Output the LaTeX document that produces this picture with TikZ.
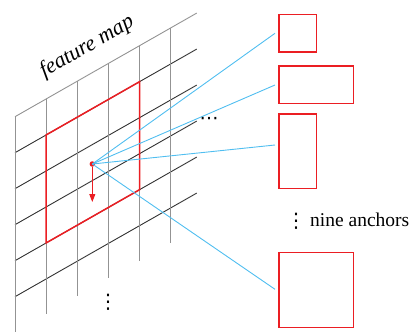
\documentclass[tikz,border=0pt]{standalone}
\usepackage{fontspec}
\setmainfont{Liberation Serif}
\newfontfamily\dotsfont{DejaVu Sans}
\usetikzlibrary{arrows.meta}
\definecolor{anchred}{RGB}{235,30,35}
\definecolor{linkblue}{RGB}{80,190,240}
\begin{document}
\begin{tikzpicture}[x=1pt,y=-1pt,
  gridv/.style={draw=gray!85, line width=0.9pt},
  gridd/.style={draw=black!80, line width=0.9pt},
  anchorbox/.style={draw=anchred, line width=1.4pt, inner sep=0pt, minimum width=#1},
  link/.style={draw=linkblue, line width=0.9pt},
  dotstext/.style={font=\dotsfont\fontsize{#1}{#1}\selectfont, inner sep=0pt}]
\useasboundingbox (0,0) rectangle (409,332);
% diagonal lines
\draw[gridv] (15,116.7) -- (196.7,13.1);
\foreach \k in {1,...,5}{
  \draw[gridd] (15,{116.7+36*\k}) -- (196.7,{13.1+36*\k});
}
% vertical lines
\foreach \i in {0,...,5}{
  \draw[gridv] ({15+31.14*\i},{116.7-0.5702*31.14*\i}) -- ({15+31.14*\i},{331.5-0.57*31.14*\i});
}
% red window
\draw[anchred, line width=1.5pt] (46.14,134.94) -- (139.56,81.68) -- (139.56,189.68) -- (46.14,242.94) -- cycle;
% center point
\node[circle, fill=anchred, inner sep=0pt, minimum size=5.5pt] (c) at (92.3,164) {};
\coordinate (ce) at (92.3,202);
\draw[anchred, line width=1pt, -{Triangle[length=8pt,width=6pt]}] (c) -- (ce);
% anchor boxes
\node[anchorbox=37.7pt, minimum height=37.7pt] (b1) at (297.8,33.2) {};
\node[anchorbox=74.7pt, minimum height=37.7pt] (b2) at (316.3,84.8) {};
\node[anchorbox=37.7pt, minimum height=74.7pt] (b3) at (297.8,151.3) {};
\node[anchorbox=74.7pt, minimum height=74.7pt] (b4) at (316.3,290) {};
\coordinate (e1) at (275,33.3);
\coordinate (e2) at (275,85);
\coordinate (e3) at (275,145);
\coordinate (e4) at (275,289.3);
\foreach \e in {e1,e2,e3,e4}{ \draw[link] (c.center) -- (\e); }
% texts
\node[rotate=30, font=\fontsize{22}{26}\selectfont\itshape] (fm) at (87,47) {feature map};
\node[dotstext=19] (hd) at (209,121) {⋯};
\node[dotstext=20] (vd1) at (108,302) {⋮};
\node[dotstext=20] (vd2) at (296,221) {⋮};
\node[font=\fontsize{19.5}{24}\selectfont, anchor=base west, inner sep=0pt] (na) at (310,226) {nine anchors};
\end{tikzpicture}
\end{document}
